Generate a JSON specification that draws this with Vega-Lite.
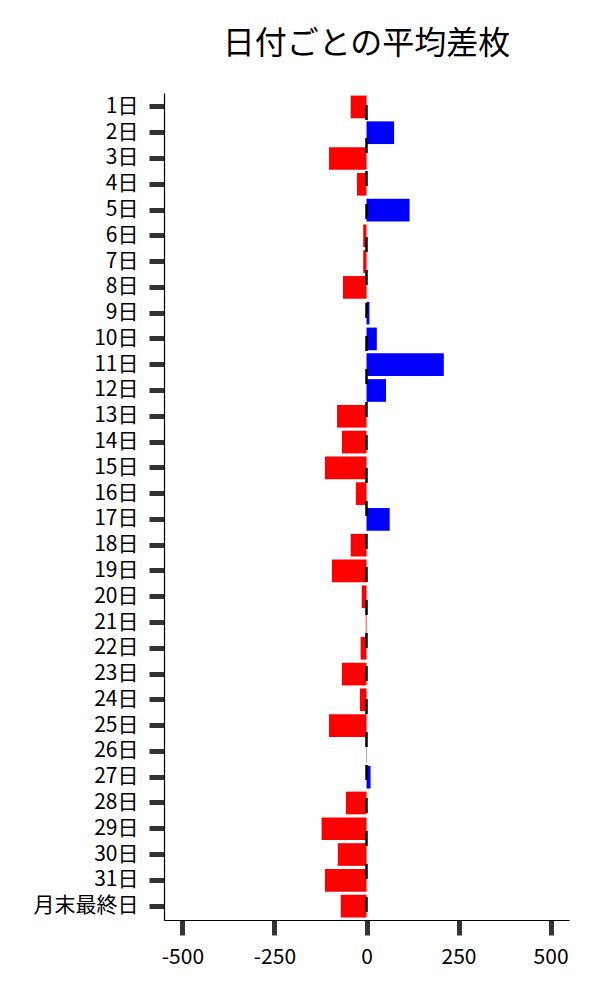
{
  "$schema": "https://vega.github.io/schema/vega-lite/v6.json",
  "width": 405,
  "height": 827,
  "autosize": {"type": "none"},
  "padding": {"left": 164, "top": 93, "right": 31, "bottom": 80},
  "background": "white",
  "title": {
    "text": "日付ごとの平均差枚",
    "font": "Noto Sans CJK JP",
    "fontSize": 32,
    "fontWeight": "normal",
    "color": "black",
    "anchor": "middle",
    "frame": "group",
    "offset": 31
  },
  "config": {
    "view": {"stroke": null},
    "axis": {
      "labelFont": "Noto Sans CJK JP",
      "labelFontSize": 21,
      "labelColor": "black",
      "tickSize": 15,
      "tickWidth": 5,
      "tickColor": "#333333",
      "domainColor": "black",
      "domainWidth": 1.2,
      "grid": false,
      "title": null
    }
  },
  "data": {
    "values": [
      {"day": "1日", "value": -43},
      {"day": "2日", "value": 75},
      {"day": "3日", "value": -102},
      {"day": "4日", "value": -26},
      {"day": "5日", "value": 117},
      {"day": "6日", "value": -9},
      {"day": "7日", "value": -9},
      {"day": "8日", "value": -64},
      {"day": "9日", "value": 8},
      {"day": "10日", "value": 28},
      {"day": "11日", "value": 210},
      {"day": "12日", "value": 53},
      {"day": "13日", "value": -80},
      {"day": "14日", "value": -67},
      {"day": "15日", "value": -113},
      {"day": "16日", "value": -29},
      {"day": "17日", "value": 63},
      {"day": "18日", "value": -43},
      {"day": "19日", "value": -94},
      {"day": "20日", "value": -13},
      {"day": "21日", "value": -2},
      {"day": "22日", "value": -16},
      {"day": "23日", "value": -67},
      {"day": "24日", "value": -18},
      {"day": "25日", "value": -102},
      {"day": "26日", "value": 1},
      {"day": "27日", "value": 11},
      {"day": "28日", "value": -56},
      {"day": "29日", "value": -122},
      {"day": "30日", "value": -78},
      {"day": "31日", "value": -113},
      {"day": "月末最終日", "value": -70}
    ]
  },
  "layer": [
    {
      "mark": {"type": "bar"},
      "encoding": {
        "y": {
          "field": "day",
          "type": "nominal",
          "sort": null,
          "scale": {"paddingInner": 0.12, "paddingOuter": 0.1},
          "axis": {"labelPadding": 11, "title": null}
        },
        "x": {
          "field": "value",
          "type": "quantitative",
          "scale": {"domain": [-550, 550], "nice": false, "zero": false},
          "axis": {
            "values": [-500, -250, 0, 250, 500],
            "labelExpr": "'' + datum.value",
            "labelPadding": 11,
            "title": null
          }
        },
        "color": {
          "condition": {"test": "datum.value < 0", "value": "#ff0000"},
          "value": "#0000ff"
        }
      }
    },
    {
      "data": {"values": [{"zero": 0}]},
      "mark": {
        "type": "rule",
        "color": "black",
        "strokeWidth": 2.5,
        "strokeDash": [15, 18],
        "strokeDashOffset": 21
      },
      "encoding": {
        "x": {"field": "zero", "type": "quantitative"}
      }
    }
  ]
}
